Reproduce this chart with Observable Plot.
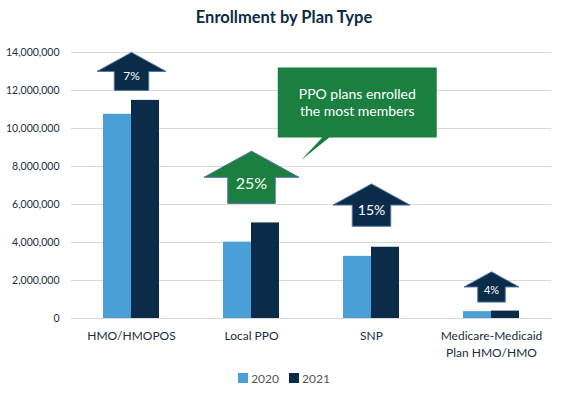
<!DOCTYPE html>
<html><head><meta charset="utf-8">
<script src="https://cdn.jsdelivr.net/npm/d3@7"></script>
<script src="https://cdn.jsdelivr.net/npm/@observablehq/plot@0.6"></script>
<style>
body{margin:0;background:#fff;font-family:Lato,sans-serif;}
#chart{width:568px;height:397px;position:relative;overflow:hidden}
.title{text-align:center;font-weight:bold;font-size:16.5px;color:#0d2b45;height:36px;line-height:35px;}
#plot svg{display:block}
.legend{display:flex;justify-content:center;align-items:center;font-size:12px;color:#555;height:24px;}
.legend .item{display:flex;align-items:center;margin:0 5px;}
.legend .sw{width:10px;height:10px;margin-right:3px;}
</style></head><body>
<div id="chart">
  <div class="title">Enrollment by Plan Type</div>
  <div id="plot"></div>
  <div class="legend" id="legend"></div>
</div>
<script>
// ---- data ----
const plans = ["HMO/HMOPOS", "Local PPO", "SNP", "Medicare-Medicaid Plan HMO/HMO"];
const planLabels = ["HMO/HMOPOS", "Local PPO", "SNP", "Medicare-Medicaid\nPlan HMO/HMO"];
const years = ["2020", "2021"];
const enroll2020 = [10750000, 4020000, 3270000, 360000];
const enroll2021 = [11480000, 5030000, 3750000, 390000];
const growthLabels = ["7%", "25%", "15%", "4%"];
const yTicks = [0, 2000000, 4000000, 6000000, 8000000, 10000000, 12000000, 14000000];
const calloutText = "PPO plans enrolled\nthe most members";
const calloutPlan = "Local PPO";

// ---- styles ----
const navy = "#0b2c48";
const blue = "#4a9fd6";
const green = "#1a7f3f";
const yearColors = [blue, navy];
const arrowStyles = [
  {r: 34.5, gap: 10, fill: navy, fontSize: 12},
  {r: 47.5, gap: 19.5, fill: green, fontSize: 16},
  {r: 38.5, gap: 21, fill: navy, fontSize: 14},
  {r: 27.5, gap: 9, fill: navy, fontSize: 11}
];

const rows = plans.flatMap((p, i) => [
  {plan: p, year: years[0], value: enroll2020[i]},
  {plan: p, year: years[1], value: enroll2021[i]}
]);

const arrowSymbol = {
  draw(ctx, size) {
    const r = Math.sqrt(size / Math.PI), h = 0.55 * r;
    ctx.moveTo(0, -h); ctx.lineTo(r, 0); ctx.lineTo(0.5 * r, 0); ctx.lineTo(0.5 * r, h);
    ctx.lineTo(-0.5 * r, h); ctx.lineTo(-0.5 * r, 0); ctx.lineTo(-r, 0); ctx.closePath();
  }
};
const calloutSymbol = {
  draw(ctx) {
    const w = 79.5, h = 35;
    ctx.moveTo(-w, -h); ctx.lineTo(w, -h); ctx.lineTo(w, h); ctx.lineTo(-28, h);
    ctx.lineTo(-56, 57.5); ctx.lineTo(-35, h); ctx.lineTo(-w, h); ctx.closePath();
  }
};

const arrowMarks = plans.flatMap((p, i) => {
  const s = arrowStyles[i];
  const d = [{plan: p, top: Math.max(enroll2020[i], enroll2021[i]), label: growthLabels[i]}];
  const dy = -(s.gap + 0.55 * s.r);
  return [
    Plot.dot(d, {fx: "plan", y: "top", r: s.r, symbol: arrowSymbol, fill: s.fill, stroke: "#4f74a6", strokeWidth: 1, dy}),
    Plot.text(d, {fx: "plan", y: "top", text: "label", fill: "white", fontSize: s.fontSize, dy: dy + 0.14 * s.r})
  ];
});

const ci = plans.indexOf(calloutPlan);
const calloutData = [{plan: calloutPlan, top: enroll2021[ci], text: calloutText}];

const chart = Plot.plot({
  width: 568, height: 330,
  marginLeft: 70, marginRight: 16, marginTop: 16, marginBottom: 48,
  style: {fontFamily: "Lato, sans-serif", color: "#1c2e40", background: "transparent"},
  fx: {domain: plans, padding: 0, label: null},
  x: {domain: years, paddingInner: 0, paddingOuter: 1.08, axis: null},
  y: {domain: [0, 14000000], label: null},
  color: {domain: years, range: yearColors},
  marks: [
    Plot.gridY(yTicks, {stroke: "#d9d9d9", strokeOpacity: 1}),
    Plot.axisY(yTicks, {tickSize: 0, tickPadding: 12, tickFormat: d3.format(","), fontSize: 10.5, label: null}),
    Plot.axisFx({anchor: "bottom", tickSize: 0, tickPadding: 9, lineAnchor: "top", lineHeight: 1.45,
      tickFormat: d => planLabels[plans.indexOf(d)], fontSize: 12, label: null}),
    Plot.barY(rows, {fx: "plan", x: "year", y: "value", fill: "year"}),
    ...arrowMarks,
    Plot.dot(calloutData, {fx: "plan", y: "top", r: 10, symbol: calloutSymbol, fill: green, stroke: "none", dx: 105.75, dy: -120.5}),
    Plot.text(calloutData, {fx: "plan", y: "top", text: "text", fill: "white", fontSize: 14, lineHeight: 1.22, dx: 105.75, dy: -120.5})
  ]
});
document.getElementById("plot").appendChild(chart);

const legend = document.getElementById("legend");
years.forEach((y, i) => {
  const item = document.createElement("div"); item.className = "item";
  const sw = document.createElement("div"); sw.className = "sw"; sw.style.background = yearColors[i];
  const t = document.createElement("span"); t.textContent = y;
  item.appendChild(sw); item.appendChild(t); legend.appendChild(item);
});
</script>
</body></html>
